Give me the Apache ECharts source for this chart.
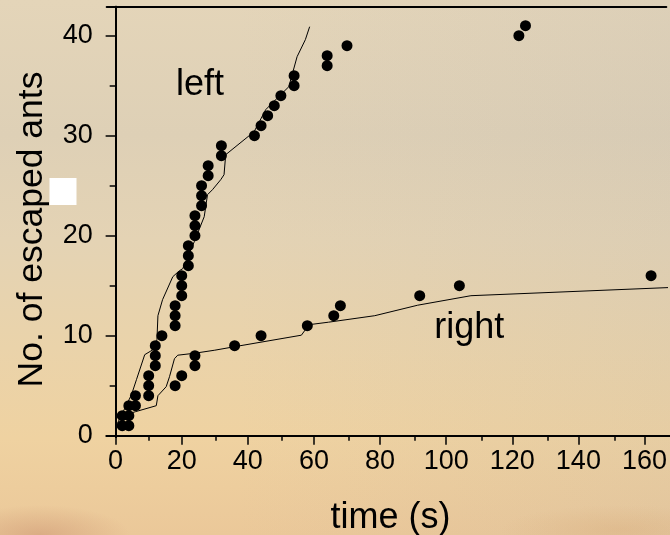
<!DOCTYPE html>
<html>
<head>
<meta charset="utf-8">
<script src="https://cdn.jsdelivr.net/npm/echarts@6/dist/echarts.min.js"></script>
<style>
html,body{margin:0;padding:0;width:670px;height:535px;overflow:hidden;}
body{
  background:
    radial-gradient(ellipse 90px 30px at 40px 535px, rgba(205,150,115,0.55), rgba(205,150,115,0) 100%),
    radial-gradient(ellipse 120px 25px at 620px 530px, rgba(215,170,120,0.35), rgba(215,170,120,0) 100%),
    linear-gradient(to right, rgba(0,0,0,0) 35%, rgba(170,170,175,0.12) 100%),
    linear-gradient(to bottom, #e4d5b9 0%, #ded0b6 25%, #e4d3b4 45%, #ead3aa 65%, #efd2a1 82%, #ebc899 100%);
}
#chart{width:670px;height:535px;}
</style>
</head>
<body>
<div id="chart"></div>
<script>
// ---- data ----
const leftTimes  = [2,2,4,6,10,10,12,12,12,14,18,18,18,20,20,20,22,22,22,24,24,24,26,26,26,28,28,32,32,42,44,46,48,50,54,54,64,64,70,122,124];
const leftCounts = [1,2,3,4,5,6,7,8,9,10,11,12,13,14,15,16,17,18,19,20,21,22,23,24,25,26,27,28,29,30,31,32,33,34,35,36,37,38,39,40,41];
const rightTimes  = [4,4,6,10,18,20,24,24,36,44,58,66,68,92,104,162];
const rightCounts = [1,2,3,4,5,6,7,8,9,10,11,12,13,14,15,16];
const leftModelT = [0.5,4.8,6.3,8.8,11.8,12.5,12.8,14.2,17.3,19.3,20.3,23.8,26.8,27.8,29.3,31.8,32.8,33.3,41.9,45.4,46.9,52.4,54.9,57.4,58.7];
const leftModelN = [1.2,4.1,5.6,8.1,8.7,9.6,12.0,13.6,15.9,16.5,16.7,19.4,21.9,24.1,24.6,25.6,26.1,28.1,30.4,32.6,33.1,34.9,37.9,39.6,40.9];
const rightModelT = [2,4,6,12.3,12.8,15.3,16.3,17.8,18.8,24,30,36,56.2,58.5,64.4,78.4,91.4,107.5,170];
const rightModelN = [1.8,2.2,2.4,3.0,4.0,4.9,5.9,7.7,8.05,8.25,8.55,8.9,10.05,11.1,11.35,12.0,13.05,14.0,14.85];
const xMajorTicks = [0,20,40,60,80,100,120,140,160];
const xMinorTicks = [10,30,50,70,90,110,130,150];
const yMajorTicks = [0,10,20,30,40];
const yMinorTicks = [5,15,25,35];
const xTitle = 'time (s)';
const yTitle = 'No. of escaped ants';
const seriesNames = ['left','right'];

const X_MIN = -2.7, X_MAX = 166.6, Y_MIN = -0.13, Y_MAX = 42.9;
const FONT = "'Liberation Sans', Arial, sans-serif";
const zip = (a, b) => a.map((v, i) => [v, b[i]]);

const chart = echarts.init(document.getElementById('chart'), null, {renderer: 'canvas'});
const gridPos = {left: 106.7, right: 0, top: 6.7, bottom: 98};
const blackLine = {show: true, lineStyle: {color: '#000', width: 2}};
const option = {
  backgroundColor: 'transparent',
  animation: false,
  grid: [Object.assign({}, gridPos), Object.assign({}, gridPos)],
  xAxis: [
    { type: 'value', gridIndex: 0, position: 'bottom', min: X_MIN, max: X_MAX,
      axisLine: blackLine,
      axisTick: {show: true, customValues: xMajorTicks, length: 9, inside: false, lineStyle: {color: '#000', width: 1.5}},
      axisLabel: {show: true, customValues: xMajorTicks, margin: 11, color: '#000', fontSize: 27, fontFamily: FONT, hideOverlap: false},
      splitLine: {show: false}
    },
    { type: 'value', gridIndex: 0, position: 'top', min: X_MIN, max: X_MAX,
      axisLine: blackLine,
      axisTick: {show: false}, axisLabel: {show: false}, splitLine: {show: false}
    },
    { type: 'value', gridIndex: 1, position: 'bottom', min: X_MIN, max: X_MAX,
      axisLine: blackLine,
      axisTick: {show: true, customValues: xMinorTicks, length: 5, inside: false, lineStyle: {color: '#000', width: 1.5}},
      axisLabel: {show: false}, splitLine: {show: false}
    }
  ],
  yAxis: [
    { type: 'value', gridIndex: 0, position: 'left', min: Y_MIN, max: Y_MAX,
      axisLine: blackLine,
      axisTick: {show: true, customValues: yMajorTicks, length: 10, inside: false, lineStyle: {color: '#000', width: 1.5}},
      axisLabel: {show: true, customValues: yMajorTicks, margin: 14, color: '#000', fontSize: 27, fontFamily: FONT, hideOverlap: false},
      splitLine: {show: false}
    },
    { type: 'value', gridIndex: 1, position: 'left', min: Y_MIN, max: Y_MAX,
      axisLine: blackLine,
      axisTick: {show: true, customValues: yMinorTicks, length: 6, inside: false, lineStyle: {color: '#000', width: 1.5}},
      axisLabel: {show: false}, splitLine: {show: false}
    }
  ],
  series: [
    { name: seriesNames[0] + ' model', type: 'line', xAxisIndex: 0, yAxisIndex: 0,
      data: zip(leftModelT, leftModelN), showSymbol: false, symbol: 'none', smooth: false,
      lineStyle: {color: '#000', width: 1}, z: 2 },
    { name: seriesNames[1] + ' model', type: 'line', xAxisIndex: 0, yAxisIndex: 0,
      data: zip(rightModelT, rightModelN), showSymbol: false, symbol: 'none', smooth: false,
      lineStyle: {color: '#000', width: 1}, z: 2 },
    { name: seriesNames[0], type: 'scatter', xAxisIndex: 0, yAxisIndex: 0,
      data: zip(leftTimes, leftCounts), symbol: 'circle', symbolSize: 11,
      itemStyle: {color: '#000', opacity: 1}, z: 3 },
    { name: seriesNames[1], type: 'scatter', xAxisIndex: 0, yAxisIndex: 0,
      data: zip(rightTimes, rightCounts), symbol: 'circle', symbolSize: 11,
      itemStyle: {color: '#000', opacity: 1}, z: 3 },
    { name: 'minor-axes', type: 'scatter', xAxisIndex: 2, yAxisIndex: 1,
      data: [], silent: true }
  ],
  graphic: [
    { type: 'text', x: 176, y: 84.7, style: {text: seriesNames[0], fill: '#000', font: '36px ' + FONT, align: 'left', verticalAlign: 'middle'}, z: 10 },
    { type: 'text', x: 434.3, y: 328, style: {text: seriesNames[1], fill: '#000', font: '36px ' + FONT, align: 'left', verticalAlign: 'middle'}, z: 10 },
    { type: 'text', x: 390.5, y: 518, style: {text: xTitle, fill: '#000', font: '36px ' + FONT, align: 'center', verticalAlign: 'middle'}, z: 10 },
    { type: 'text', x: 32.4, y: 229.5, rotation: Math.PI / 2, style: {text: yTitle, fill: '#000', font: '35.5px ' + FONT, align: 'center', verticalAlign: 'middle'}, z: 10 },
    { type: 'rect', shape: {x: 49.5, y: 178, width: 27, height: 27}, style: {fill: '#ffffff'}, z: 20 }
  ]
};
chart.setOption(option);
</script>
</body>
</html>
